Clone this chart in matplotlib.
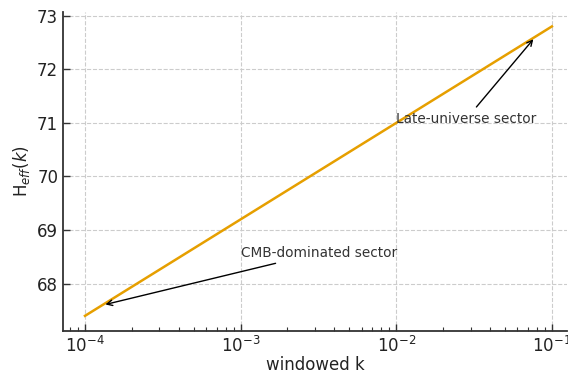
import numpy as np
import matplotlib.pyplot as plt

# Данные
k = [1e-4, 1e-3, 1e-2, 1e-1]
H_eff = [67.4, 69.2, 71.0, 72.8]

text_col = '#333333'
plt.rcParams['xtick.direction'] = 'in'
plt.rcParams['ytick.direction'] = 'in'
plt.rcParams['xtick.color'] = text_col
plt.rcParams['ytick.color'] = text_col
plt.rcParams['xtick.labelcolor'] = '#222222'
plt.rcParams['ytick.labelcolor'] = '#222222'

fig, ax = plt.subplots(figsize=(5.68, 3.73), dpi=100)
fig.subplots_adjust(left=0.111, right=0.998, bottom=0.113, top=0.968)

ax.plot(k, H_eff, color='#E69F00', linewidth=1.8)
ax.set_xscale('log')
ax.set_xlim(10**-4.141, 10**-0.904)
ax.set_ylim(67.12, 73.07)

ax.grid(True, which='major', linestyle='--', color='#cccccc', linewidth=0.8)
ax.spines['top'].set_visible(False)
ax.spines['right'].set_visible(False)
for s in ['left', 'bottom']:
    ax.spines[s].set_linewidth(1.3)
    ax.spines[s].set_color(text_col)
ax.tick_params(axis='both', which='major', labelsize=12, length=5, width=1)
ax.tick_params(axis='x', which='minor', length=3, width=0.8)

ax.set_xlabel('windowed k', fontsize=12, color='#222222', labelpad=0)
ax.set_ylabel('H$_{eff}(k)$', fontsize=12, color='#222222')

ax.annotate('Late-universe sector', xy=(0.078, 72.6), xytext=(0.01, 71.0),
            fontsize=9.8, color=text_col,
            arrowprops=dict(arrowstyle='->', color='black', lw=1))
ax.annotate('CMB-dominated sector', xy=(1.3e-4, 67.6), xytext=(1e-3, 68.5),
            fontsize=9.8, color=text_col,
            arrowprops=dict(arrowstyle='->', color='black', lw=1))

plt.savefig('out.png', dpi=100)
